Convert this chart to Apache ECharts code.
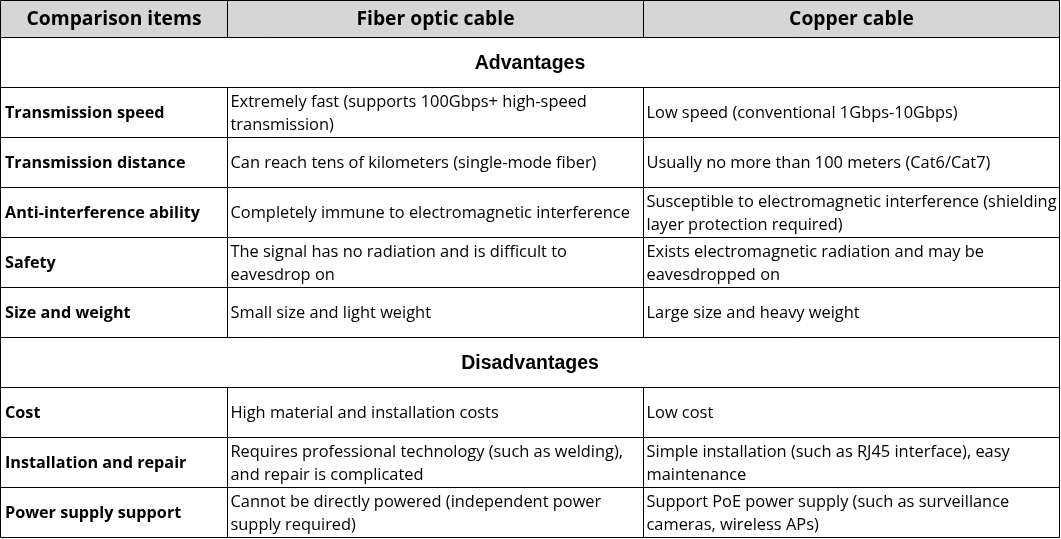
<!DOCTYPE html>
<html>
<head>
<meta charset="utf-8">
<script src="https://cdn.jsdelivr.net/npm/echarts@6/dist/echarts.min.js"></script>
<style>
  html, body { margin: 0; padding: 0; background: #fff; }
  #chart { width: 1061px; height: 539px; }
</style>
</head>
<body>
<div id="chart"></div>
<script>
// 表头
var headers = ['Comparison items', 'Fiber optic cable', 'Copper cable'];

// 分组
var sections = ['Advantages', 'Disadvantages'];

// 每行：分组序号、对比项、光纤、铜缆
var rowSection = [0, 0, 0, 0, 0, 1, 1, 1];
var items = ['Transmission speed', 'Transmission distance', 'Anti-interference ability', 'Safety',
  'Size and weight', 'Cost', 'Installation and repair', 'Power supply support'];
var fiber = [
  'Extremely fast (supports 100Gbps+ high-speed\ntransmission)',
  'Can reach tens of kilometers (single-mode fiber)',
  'Completely immune to electromagnetic interference',
  'The signal has no radiation and is difficult to\neavesdrop on',
  'Small size and light weight',
  'High material and installation costs',
  'Requires professional technology (such as welding),\nand repair is complicated',
  'Cannot be directly powered (independent power\nsupply required)'
];
var copper = [
  'Low speed (conventional 1Gbps-10Gbps)',
  'Usually no more than 100 meters (Cat6/Cat7)',
  'Susceptible to electromagnetic interference (shielding\nlayer protection required)',
  'Exists electromagnetic radiation and may be\neavesdropped on',
  'Large size and heavy weight',
  'Low cost',
  'Simple installation (such as RJ45 interface), easy\nmaintenance',
  'Support PoE power supply (such as surveillance\ncameras, wireless APs)'
];

var colX = [0.5, 227.5, 643.5, 1059.5];
var headH = 37, rowH = 50;
var bodyFont = '16.4px "Open Sans"';

var myChart = echarts.init(document.getElementById('chart'));
var g = [];

function cell(x0, x1, y0, h, fill) {
  g.push({ type: 'rect', shape: { x: x0, y: y0, width: x1 - x0, height: h },
    style: { fill: fill || '#fff', stroke: '#000', lineWidth: 1 } });
}
function text(str, x, y, font, align) {
  g.push({ type: 'text', x: x, y: y, style: { text: str, font: font, fill: '#000',
    align: align || 'left', verticalAlign: 'middle', lineHeight: 23 } });
}

// 表头
for (var c = 0; c < 3; c++) {
  cell(colX[c], colX[c + 1], 0.5, headH, '#d6d6d6');
  text(headers[c], (colX[c] + colX[c + 1]) / 2, 20, 'bold 19.3px "Open Sans"', 'center');
}

var y = 0.5 + headH;
var last = -1;
items.forEach(function (name, i) {
  if (rowSection[i] !== last) {
    last = rowSection[i];
    cell(colX[0], colX[3], y, rowH);
    text(sections[last], 530, y + 26, 'bold 19.5px "Liberation Sans"', 'center');
    y += rowH;
  }
  cell(colX[0], colX[1], y, rowH);
  cell(colX[1], colX[2], y, rowH);
  cell(colX[2], colX[3], y, rowH);
  text(name, 5, y + 26, 'bold 16.2px "Open Sans"');
  text(fiber[i], colX[1] + 3, y + 26, bodyFont);
  text(copper[i], colX[2] + 3, y + 26, bodyFont);
  y += rowH;
});

myChart.setOption({ animation: false, graphic: g });
</script>
</body>
</html>
